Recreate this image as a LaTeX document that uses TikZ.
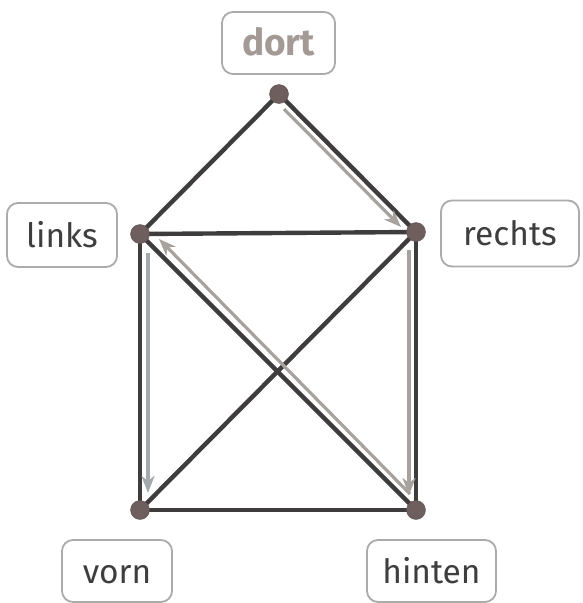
\documentclass[tikz,border=0pt]{standalone}
\usepackage{fontspec}
\setmainfont{Fira Sans}
\usetikzlibrary{arrows.meta}
\definecolor{edgec}{HTML}{3E3C3C}
\definecolor{dotc}{HTML}{6E5F5E}
\definecolor{arrc}{HTML}{A8A29F}
\definecolor{arrb}{HTML}{A3A9AD}
\definecolor{boxc}{HTML}{ABABAB}
\definecolor{txtc}{HTML}{3F3D3D}
\definecolor{dortc}{HTML}{A39A96}
\tikzset{
  vtx/.style={circle,fill=dotc,draw=dotc!85!black,line width=0.4pt,minimum size=19pt,inner sep=0pt},
  lbl/.style={draw=boxc,line width=1.8pt,rounded corners=11pt,fill=white,text=txtc,font=\fontsize{33.5}{38}\selectfont,inner sep=0pt,text height=24pt,text depth=0pt},
  edge/.style={draw=edgec,line width=4.4pt},
  move/.style={draw=arrc,line width=3.2pt,-{Stealth[length=17pt,width=13pt,inset=5pt]}},
}
\begin{document}
\begin{tikzpicture}[x=1pt,y=-1pt]
\useasboundingbox (0,0) rectangle (582,603);
% vertices
\coordinate (top) at (279,94);
\coordinate (L) at (140,234);
\coordinate (R) at (416,232);
\coordinate (V) at (140,510);
\coordinate (H) at (416,510);
% edges
\draw[edge] (top) -- (L);
\draw[edge] (top) -- (R);
\draw[edge] (L) -- (R);
\draw[edge] (L) -- (V);
\draw[edge] (R) -- (H);
\draw[edge] (V) -- (H);
\draw[edge] (L) -- (H);
\draw[edge] (R) -- (V);
% moves
\coordinate (a1s) at (284,109); \coordinate (a1e) at (401,227);
\coordinate (a2s) at (409,250); \coordinate (a2e) at (409,495);
\coordinate (a3s) at (410,494); \coordinate (a3e) at (159,239);
\coordinate (a4s) at (148,253); \coordinate (a4e) at (148,493);
\draw[move] (a1s) -- (a1e);
\draw[move] (a2s) -- (a2e);
\draw[move] (a3s) -- (a3e);
\draw[move,draw=arrb] (a4s) -- (a4e);
% dots
\node[vtx] (ntop) at (top) {};
\node[vtx] (nL) at (L) {};
\node[vtx] (nR) at (R) {};
\node[vtx] (nV) at (V) {};
\node[vtx] (nH) at (H) {};
% labels
\node[lbl,minimum width=113pt,minimum height=62pt,text=dortc,font=\fontsize{37}{42}\selectfont\bfseries] (ldort) at (278.5,43) {dort};
\node[lbl,minimum width=110pt,minimum height=64pt] (llinks) at (62,235) {links};
\node[lbl,minimum width=138pt,minimum height=66pt] (lrechts) at (510,233.5) {rechts};
\node[lbl,minimum width=110pt,minimum height=62pt] (lvorn) at (117,571) {vorn};
\node[lbl,minimum width=129pt,minimum height=62pt] (lhinten) at (431.5,571) {hinten};
\end{tikzpicture}
\end{document}
